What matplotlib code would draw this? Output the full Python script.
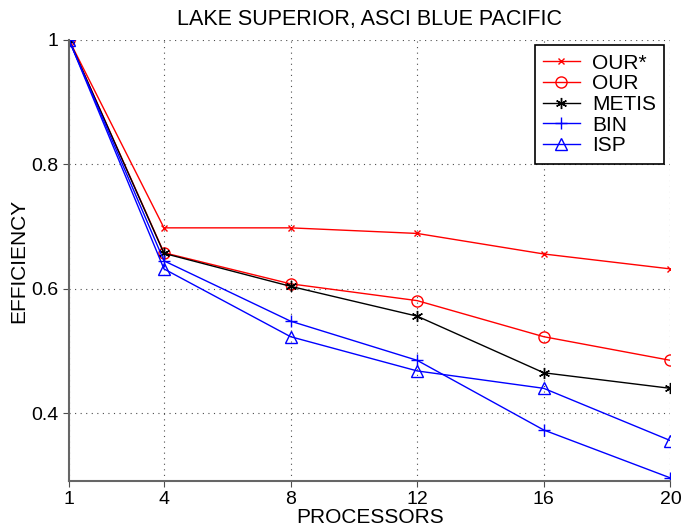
import matplotlib
matplotlib.use('Agg')
import matplotlib.pyplot as plt

plt.rcParams['font.family'] = ['Liberation Sans', 'DejaVu Sans']

processors = [1, 4, 8, 12, 16, 20]
our_star = [1.0, 0.698, 0.698, 0.689, 0.656, 0.632]
our = [1.0, 0.658, 0.608, 0.581, 0.523, 0.485]
metis = [1.0, 0.657, 0.604, 0.556, 0.465, 0.440]
bin_ = [1.0, 0.645, 0.548, 0.485, 0.373, 0.296]
isp = [1.0, 0.632, 0.523, 0.468, 0.440, 0.356]

fig = plt.figure(figsize=(6.84, 5.29), dpi=100)
ax = fig.add_axes([0.1009, 0.0907, 0.8792, 0.8337])

ax.plot(processors, our_star, color='r', marker='x', ms=5, lw=1, label='OUR*')
ax.plot(processors, our, color='r', marker='o', ms=8, mfc='none', lw=1, label='OUR')
ax.plot(processors, metis, color='k', marker=(6, 2, 0), ms=8, lw=1, label='METIS')
ax.plot(processors, bin_, color='b', marker='+', ms=9, lw=1, label='BIN')
ax.plot(processors, isp, color='b', marker='^', ms=8, mfc='none', lw=1, label='ISP')

ax.set_xlim(1, 20)
ax.set_ylim(0.291, 1.0)
ax.set_xticks(processors)
ax.set_yticks([0.4, 0.6, 0.8, 1.0])
ax.set_yticklabels(['0.4', '0.6', '0.8', '1'])
ax.grid(True, linestyle=(0, (1, 4)), color='0.3', lw=0.8)

for side in ['top', 'right']:
    ax.spines[side].set_visible(False)
for side in ['left', 'bottom']:
    ax.spines[side].set_color('0.4')
    ax.spines[side].set_linewidth(1.5)
ax.tick_params(direction='out', length=4, width=0.8, colors='0.3',
               labelcolor='black', labelsize=14)

ax.set_title('LAKE SUPERIOR, ASCI BLUE PACIFIC', fontsize=15.5, pad=11)
ax.set_xlabel('PROCESSORS', fontsize=15, labelpad=0)
ax.set_ylabel('EFFICIENCY', fontsize=15, labelpad=2)

leg = ax.legend(loc='upper right', bbox_to_anchor=(0.99, 0.988), fontsize=15,
                fancybox=False, edgecolor='black', framealpha=1,
                handlelength=1.75, handletextpad=0.6, borderpad=0.4,
                borderaxespad=0, labelspacing=0.08)
leg.get_frame().set_linewidth(1.2)

fig.savefig('out.png', dpi=100)
